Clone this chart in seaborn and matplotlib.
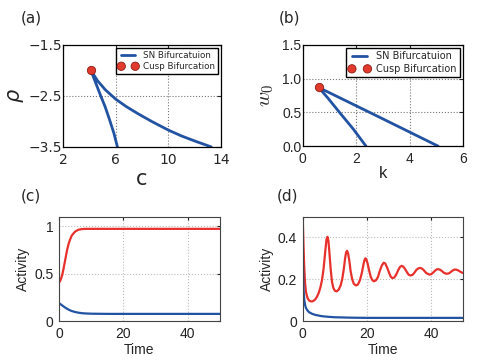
# Bifurkationsdiagramme (a, b) und Zeitverläufe der Aktivität (c, d)

import matplotlib
matplotlib.use("Agg")
import matplotlib.pyplot as plt
import seaborn as sns

sns.set_style("white")
plt.rcParams["font.family"] = ["DejaVu Sans"]

BLUE = "#2253a3"
RED = "#e8302c"
CUSP_RED = "#e23a2c"

# -------------------------
# Daten
# -------------------------
# (a) SN-Kurve im (c, rho)-Raum: unterer Ast -> Spitze -> oberer Ast
a_c = [6.12, 5.85, 5.5, 5.18, 4.85, 4.55, 4.1, 4.6, 5.2, 6.0, 6.8, 7.73, 8.8, 10.0, 11.0,
       12.07, 13.27]
a_rho = [-3.5, -3.23, -2.95, -2.71, -2.5, -2.3, -2.0, -2.2, -2.38, -2.565, -2.71, -2.855,
         -3.01, -3.17, -3.285, -3.39, -3.5]
a_cusp_c = [4.1]
a_cusp_rho = [-2.0]

# (b) SN-Kurve im (k, w0)-Raum
b_k = [2.37, 1.9, 1.38, 0.95, 0.6, 2.87, 5.07]
b_w0 = [0.0, 0.25, 0.5, 0.71, 0.87, 0.43, 0.0]
b_cusp_k = [0.6]
b_cusp_w0 = [0.87]

# (c) Aktivität, bistabiler Fall
c_time = [0, 0.5, 1, 1.5, 2, 2.5, 3, 3.5, 4, 5, 6, 7, 8, 10, 15, 20, 30, 40, 50]
c_red = [0.40, 0.43, 0.48, 0.56, 0.65, 0.74, 0.81, 0.86, 0.90, 0.94, 0.96, 0.967, 0.97,
         0.97, 0.97, 0.97, 0.97, 0.97, 0.97]
c_blue = [0.19, 0.177, 0.165, 0.152, 0.14, 0.13, 0.12, 0.112, 0.105, 0.095, 0.088, 0.083,
          0.08, 0.077, 0.075, 0.075, 0.075, 0.075, 0.075]

# (d) Aktivität, gedämpfte Oszillation
d_time_red = [0, 0.25, 0.5, 0.75, 1, 1.5, 2, 2.5, 3, 3.5, 4, 4.5, 5, 5.5, 6, 6.5, 7, 7.4, 7.7,
              8.0, 8.3, 8.7, 9.1, 9.5, 10, 10.6, 11.2, 11.8, 12.3, 12.8, 13.2, 13.5, 13.8,
              14.1, 14.5, 14.9, 15.4, 15.9, 16.6, 17.2, 17.8, 18.4, 18.9, 19.2, 19.5, 19.8,
              20.2, 20.7, 21.2, 21.7, 22.2, 22.8, 23.4, 24.0, 24.6, 25.2, 25.7, 26.3, 26.9,
              27.4, 27.9, 28.5, 29.1, 29.7, 30.3, 30.8, 31.3, 31.9, 32.5, 33.0, 33.6, 34.2,
              34.8, 35.4, 36.0, 36.6, 37.2, 37.8, 38.4, 39.4, 40.0, 40.6, 41.2, 41.7, 42.2,
              42.8, 43.4, 44.0, 44.8, 45.5, 46.1, 46.7, 47.2, 47.7, 48.3, 48.9, 49.5, 50]
d_red = [0.50, 0.36, 0.25, 0.18, 0.14, 0.11, 0.098, 0.094, 0.094, 0.098, 0.105, 0.118, 0.135,
         0.16, 0.195, 0.25, 0.33, 0.39, 0.403, 0.385, 0.33, 0.25, 0.19, 0.16, 0.145, 0.142,
         0.15, 0.17, 0.2, 0.25, 0.30, 0.328, 0.336, 0.325, 0.29, 0.24, 0.2, 0.178, 0.17,
         0.175, 0.195, 0.23, 0.27, 0.29, 0.30, 0.295, 0.275, 0.24, 0.21, 0.195, 0.19, 0.195,
         0.21, 0.24, 0.265, 0.279, 0.275, 0.255, 0.23, 0.212, 0.205, 0.208, 0.222, 0.243,
         0.259, 0.264, 0.26, 0.248, 0.232, 0.221, 0.218, 0.221, 0.232, 0.245, 0.252, 0.254,
         0.25, 0.241, 0.23, 0.222, 0.224, 0.232, 0.241, 0.247, 0.248, 0.245, 0.238, 0.23,
         0.226, 0.228, 0.235, 0.242, 0.246, 0.246, 0.243, 0.237, 0.232, 0.229]
d_time_blue = [0, 0.1, 0.2, 0.3, 0.5, 0.75, 1, 1.5, 2, 3, 4, 5, 6, 8, 10, 15, 20, 30, 40, 50]
d_blue = [0.34, 0.25, 0.18, 0.14, 0.10, 0.077, 0.063, 0.05, 0.042, 0.034, 0.029, 0.026,
          0.023, 0.02, 0.018, 0.016, 0.015, 0.015, 0.015, 0.015]

fig = plt.figure(figsize=(4.8, 3.6), dpi=100)
ax_a = fig.add_axes([0.132, 0.592, 0.328, 0.283])
ax_b = fig.add_axes([0.6306, 0.594, 0.334, 0.281])
ax_c = fig.add_axes([0.1227, 0.1083, 0.3353, 0.2903])
ax_d = fig.add_axes([0.6306, 0.1083, 0.3348, 0.2903])


def bifurcation_panel(ax, x, y, cx, cy, legend_size):
    sns.lineplot(x=x, y=y, sort=False, estimator=None, ax=ax, color=BLUE,
                 linewidth=2, label="SN Bifurcatuion")
    sns.scatterplot(x=cx, y=cy, ax=ax, color=CUSP_RED, s=36, edgecolor="#8a1c14",
                    linewidth=0.6, label="Cusp Bifurcation", zorder=5)
    ax.legend(loc="upper right", numpoints=2, scatterpoints=2, scatteryoffsets=[0.5],
              fontsize=legend_size, fancybox=False, edgecolor="black", framealpha=1,
              borderpad=0.3, labelspacing=0.3, handlelength=2.2, handletextpad=0.6,
              borderaxespad=0.35)
    ax.grid(True, color="#777777", linestyle=":", linewidth=0.8)
    for s in ax.spines.values():
        s.set_color("black")
        s.set_linewidth(0.9)
    ax.tick_params(direction="in", length=3, top=True, right=True, pad=4.5)


# -------------------------
# (a)
# -------------------------
bifurcation_panel(ax_a, a_c, a_rho, a_cusp_c, a_cusp_rho, 6.3)
ax_a.set_xlim(2, 14)
ax_a.set_ylim(-3.5, -1.5)
ax_a.set_xticks([2, 6, 10, 14])
ax_a.set_yticks([-3.5, -2.5, -1.5])
ax_a.tick_params(labelsize=10)
ax_a.tick_params(axis="y", pad=1)
ax_a.set_xlabel("c", fontsize=15, labelpad=1)
ax_a.set_ylabel(r"$\rho$", fontsize=15, labelpad=2)

# -------------------------
# (b)
# -------------------------
bifurcation_panel(ax_b, b_k, b_w0, b_cusp_k, b_cusp_w0, 7.0)
ax_b.set_xlim(0, 6)
ax_b.set_ylim(0, 1.5)
ax_b.set_xticks([0, 2, 4, 6])
ax_b.set_yticks([0, 0.5, 1.0, 1.5])
ax_b.set_yticklabels(["0.0", "0.5", "1.0", "1.5"])
ax_b.tick_params(labelsize=10)
ax_b.tick_params(axis="y", pad=1)
for t in ax_b.get_xticklabels() + ax_b.get_yticklabels():
    t.set_family(["Liberation Sans"])
ax_b.set_xlabel("k", fontsize=12, labelpad=0, family=["Liberation Sans"])
ax_b.set_ylabel(r"$w_0$", fontsize=15, labelpad=4, math_fontfamily="cm")


# -------------------------
# (c), (d): Zeitverläufe
# -------------------------
def activity_panel(ax):
    ax.grid(True, color="#bbbbbb", linestyle=":", linewidth=0.8)
    for s in ax.spines.values():
        s.set_color("#444444")
        s.set_linewidth(0.8)
    ax.tick_params(direction="in", length=2, top=True, right=True, pad=4,
                   labelsize=10, colors="#222222")
    for t in ax.get_xticklabels() + ax.get_yticklabels():
        t.set_family(["Liberation Sans"])
    ax.set_xlabel("Time", fontsize=10, labelpad=2, family=["Liberation Sans"])
    ax.set_ylabel("Activity", fontsize=10, labelpad=3, family=["Liberation Sans"])


sns.lineplot(x=c_time, y=c_red, ax=ax_c, color=RED, linewidth=1.6)
sns.lineplot(x=c_time, y=c_blue, ax=ax_c, color=BLUE, linewidth=1.6)
ax_c.set_xlim(0, 50)
ax_c.set_ylim(0, 1.1)
ax_c.set_xticks([0, 20, 40])
ax_c.set_yticks([0, 0.5, 1])
ax_c.set_yticklabels(["0", "0.5", "1"])
activity_panel(ax_c)

sns.lineplot(x=d_time_red, y=d_red, ax=ax_d, color=RED, linewidth=1.6)
sns.lineplot(x=d_time_blue, y=d_blue, ax=ax_d, color=BLUE, linewidth=1.6)
ax_d.set_xlim(0, 50)
ax_d.set_ylim(0, 0.5)
ax_d.set_xticks([0, 20, 40])
ax_d.set_yticks([0, 0.2, 0.4])
ax_d.set_yticklabels(["0", "0.2", "0.4"])
activity_panel(ax_d)

# Panel-Beschriftungen
for label, x, y in [("(a)", 0.066, 0.949), ("(b)", 0.604, 0.95),
                    ("(c)", 0.065, 0.456), ("(d)", 0.60, 0.456)]:
    fig.text(x, y, label, fontsize=11, ha="center", va="center")

fig.savefig("out.png", dpi=100)
print("Gespeichert: out.png")
